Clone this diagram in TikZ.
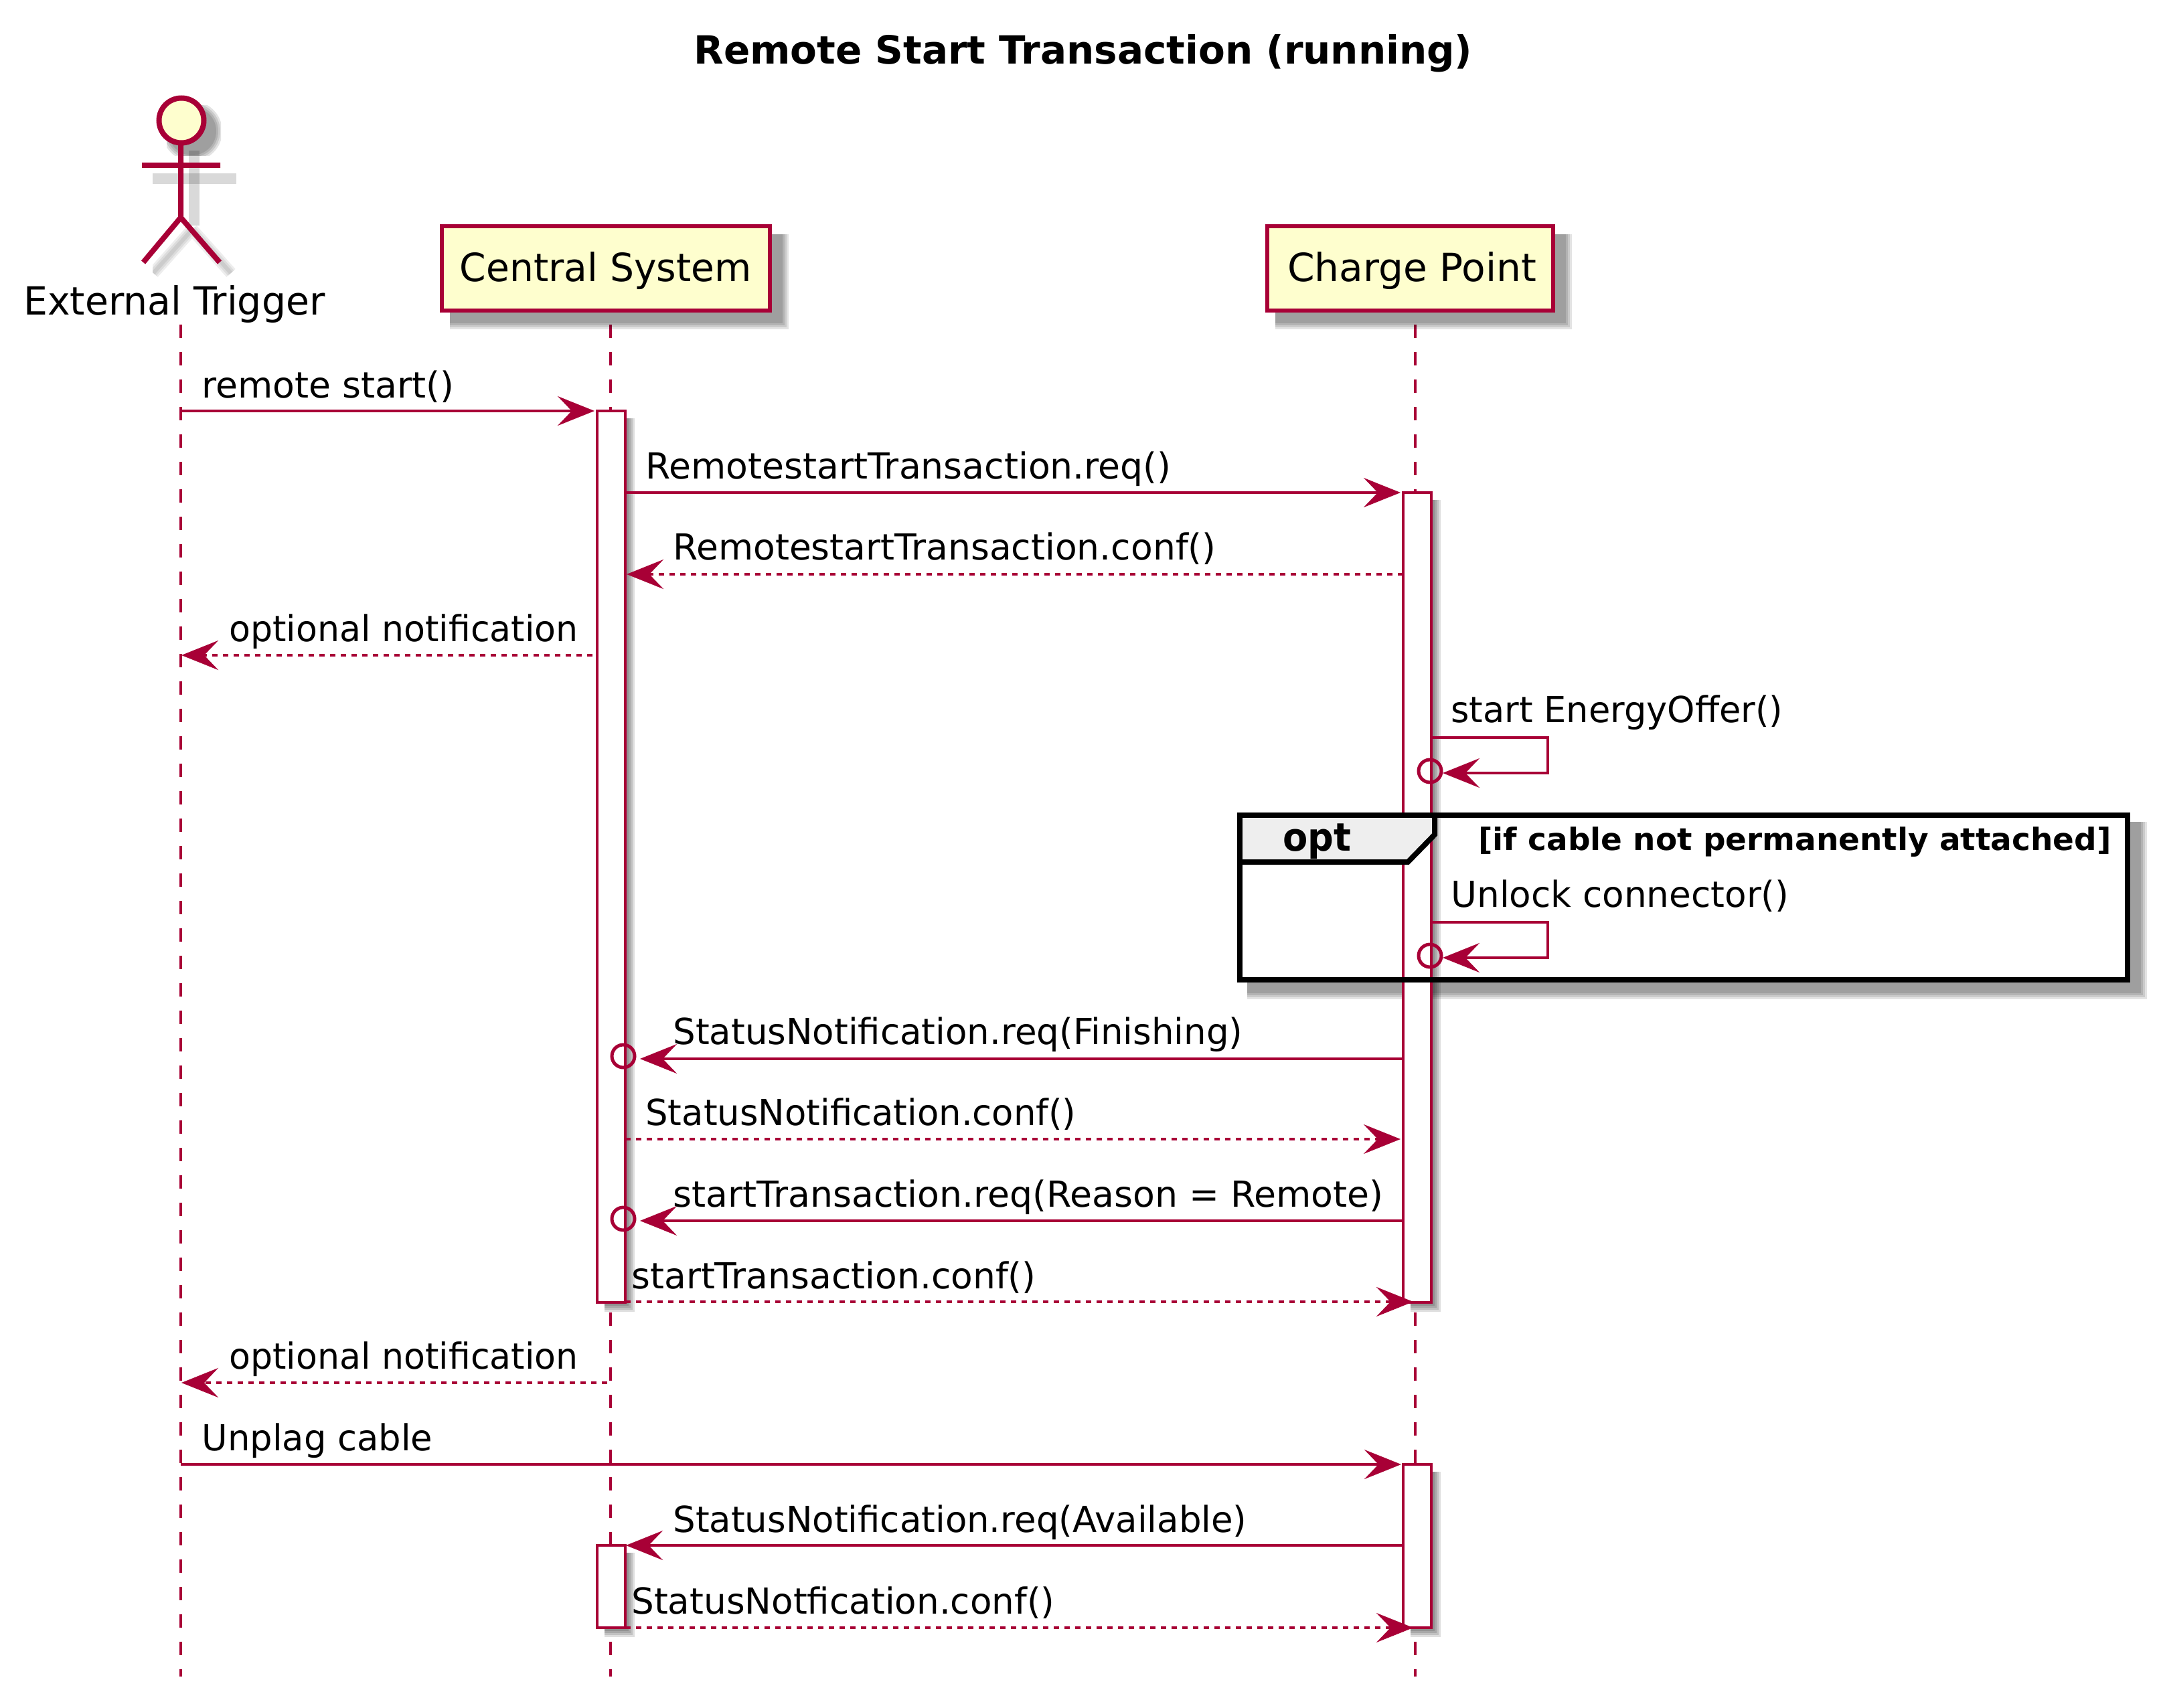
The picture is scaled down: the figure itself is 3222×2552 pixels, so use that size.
\documentclass[tikz,border=0pt]{standalone}
\usepackage{graphicx}
\usepackage{fontspec}
\setmainfont{DejaVu Sans}
\usetikzlibrary{arrows.meta}
\definecolor{umlred}{HTML}{A80036}
\definecolor{umlfill}{HTML}{FEFECE}
\definecolor{tabfill}{HTML}{EEEEEE}
\newcommand{\softbox}[4]{%
  \foreach \g in {25,22,19,16}{\fill[black,opacity=0.109] (#1+15,#2+15) rectangle (#3+\g,#4+\g);}}
\newcommand{\softact}[4]{%
  \foreach \g in {14,11,8,5,2}{\fill[black,opacity=0.13] (#1+11,#2+11) rectangle (#3+\g,#4+\g);}}
\newcommand{\fitw}[2]{\resizebox{\dimexpr #1pt/2\relax}{\height}{#2}}
\tikzset{
  x=0.5pt,y=-0.5pt,
  msgfont/.style={font=\fontsize{26.8pt}{30pt}\selectfont,anchor=base west,inner sep=0pt,text=black},
  partbox/.style={draw=umlred,fill=umlfill,line width=3pt,inner sep=0pt,minimum height=62.75pt,text height=21pt,text depth=1.25pt,font=\fontsize{29pt}{32pt}\selectfont},
  msg/.style={draw=umlred,line width=2.2pt,-{Stealth[length=27.5pt,width=22pt,inset=10.5pt,fill=umlred]}},
  reply/.style={msg,dash pattern=on 4pt off 4pt},
  lifeline/.style={draw=umlred,line width=2.2pt,dash pattern=on 10.2pt off 10.3pt},
  activation/.style={draw=umlred,fill=white,line width=2.2pt,minimum width=21pt,inner sep=0pt},
  lost/.style={draw=umlred,line width=2.5pt,fill=none,circle,minimum size=17pt,inner sep=0pt},
  actorline/.style={draw=umlred,line width=4pt},
  actorshadow/.style={draw=black,opacity=0.15,line width=8pt},
  legshadow/.style={draw=black,opacity=0.07},
}
\begin{document}
\begin{tikzpicture}
\useasboundingbox (0,0) rectangle (3222,2552);
\fill[white] (0,0) rectangle (3222,2552);
\node[anchor=base west,inner sep=0pt,font=\fontsize{29pt}{32pt}\selectfont\bfseries] (title) at (1036,96) {\fitw{1163}{Remote Start Transaction (running)}};
% lifeline ends
\coordinate (a1) at (270,485); \coordinate (a2) at (270,2505);
\coordinate (c1) at (912,485); \coordinate (c2) at (912,2505);
\coordinate (p1) at (2114,485); \coordinate (p2) at (2114,2505);
\draw[lifeline] (a1)--(a2);
\draw[lifeline] (c1)--(c2);
\draw[lifeline] (p1)--(p2);
% actor shadow
\draw[actorshadow] (290,225)--(290,337);
\draw[actorshadow] (228,267)--(353,267);
\begin{scope}
  \clip (228,337) rectangle (353,417);
  \foreach \w in {9,6,3}{\draw[legshadow,line width=\w pt] (287,343)--(229,408) (287,343)--(345,408);}
\end{scope}
\begin{scope}
  \clip (249,158) rectangle (330,233);
  \foreach \r in {45,42,39,36}{\fill[black,opacity=0.11] (287,196) circle (\r);}
\end{scope}
% actor
\coordinate (neck) at (270,215); \coordinate (hip) at (270,325);
\coordinate (armL) at (212,247); \coordinate (armR) at (329,247);
\coordinate (legL) at (214,392); \coordinate (legR) at (328,392);
\draw[actorline] (neck)--(hip) (armL)--(armR) (hip)--(legL) (hip)--(legR);
\node[circle,draw=umlred,fill=umlfill,line width=4pt,minimum size=33.5pt,inner sep=0pt] (head) at (271,180) {};
\node[anchor=base west,inner sep=0pt,font=\fontsize{29pt}{32pt}\selectfont] (extlabel) at (35,470) {\fitw{450}{External Trigger}};
% participants
\softbox{656.5}{335.5}{1153}{467}
\softbox{1890}{335.5}{2323}{467}
\node[partbox,minimum width=245.25pt] (central) at (904.75,401.25) {\fitw{436}{Central System}};
\node[partbox,minimum width=213.5pt] (charge) at (2106.5,401.25) {\hspace{2.5pt}\fitw{372}{Charge Point}};
% opt frame, lower part
\softbox{1848}{1213}{3182}{1468}
\fill[white] (1852,1217) rectangle (3178,1464);
% activations
\softact{892}{614}{934}{1946}
\softact{2096}{736}{2138}{1946}
\softact{892}{2309}{934}{2432}
\softact{2096}{2188}{2138}{2432}
\node[activation,minimum height=666pt] (actA) at (913,1280) {};
\node[activation,minimum height=605pt] (actB) at (2117,1341) {};
\node[activation,minimum height=61.5pt] (actC) at (913,2370.5) {};
\node[activation,minimum height=122pt] (actD) at (2117,2310) {};
% opt frame, upper part
\fill[tabfill] (1852,1217)--(2143,1217)--(2143,1247)--(2103,1288)--(1852,1288)--cycle;
\draw[black,line width=4pt,line join=miter] (2143,1217)--(2143,1247)--(2103,1288)--(1852,1288);
\draw[black,line width=4pt] (1852,1217.5) rectangle (3178,1464);
\node[anchor=base west,inner sep=0pt,font=\fontsize{29pt}{32pt}\selectfont\bfseries] (optlabel) at (1916,1271) {\fitw{102}{opt}};
\node[anchor=base west,inner sep=0pt,font=\fontsize{23pt}{26pt}\selectfont\bfseries] (optcond) at (2208,1270) {\fitw{945}{[if cable not permanently attached]}};
% message end points
\coordinate (m1s) at (270,614); \coordinate (m1e) at (888,614);
\coordinate (m2s) at (934,736); \coordinate (m2e) at (2092,736);
\coordinate (m3s) at (2096,858); \coordinate (m3e) at (936,858);
\coordinate (m4s) at (885,979); \coordinate (m4e) at (271,979);
\coordinate (s1a) at (2138,1102); \coordinate (s1b) at (2312,1102); \coordinate (s1c) at (2312,1155); \coordinate (s1d) at (2155,1155);
\coordinate (s2a) at (2138,1378); \coordinate (s2b) at (2312,1378); \coordinate (s2c) at (2312,1431); \coordinate (s2d) at (2155,1431);
\coordinate (m7s) at (2096,1582); \coordinate (m7e) at (956,1582);
\coordinate (m8s) at (934,1702); \coordinate (m8e) at (2092,1702);
\coordinate (m9s) at (2096,1824); \coordinate (m9e) at (956,1824);
\coordinate (m10s) at (934,1945); \coordinate (m10e) at (2111,1945);
\coordinate (m11s) at (907,2066); \coordinate (m11e) at (271,2066);
\coordinate (m12s) at (270,2188); \coordinate (m12e) at (2093,2188);
\coordinate (m13s) at (2096,2309); \coordinate (m13e) at (935,2309);
\coordinate (m14s) at (934,2432); \coordinate (m14e) at (2111,2432);
% messages
\draw[msg] (m1s)--(m1e);
\node[msgfont] (t1) at (301,594) {\fitw{377}{remote start()}};
\draw[msg] (m2s)--(m2e);
\node[msgfont] (t2) at (964,715) {\fitw{785}{RemotestartTransaction.req()}};
\draw[reply] (m3s)--(m3e);
\node[msgfont] (t3) at (1005,836) {\fitw{811}{RemotestartTransaction.conf()}};
\draw[reply] (m4s)--(m4e);
\node[msgfont] (t4) at (342,958) {\fitw{521}{optional notification}};
\draw[msg] (s1a)--(s1b)--(s1c)--(s1d);
\node[lost] (o1) at (2136,1152) {};
\node[msgfont] (t5) at (2167,1079) {\fitw{496}{start EnergyOffer()}};
\draw[msg] (s2a)--(s2b)--(s2c)--(s2d);
\node[lost] (o2) at (2136,1428) {};
\node[msgfont] (t6) at (2167,1355) {\fitw{505}{Unlock connector()}};
\draw[msg] (m7s)--(m7e);
\node[lost] (o3) at (931,1578) {};
\node[msgfont] (t7) at (1005,1560) {\fitw{851}{StatusNotification.req(Finishing)}};
\draw[reply] (m8s)--(m8e);
\node[msgfont] (t8) at (964,1681) {\fitw{643}{StatusNotification.conf()}};
\draw[msg] (m9s)--(m9e);
\node[lost] (o4) at (931,1821) {};
\node[msgfont] (t9) at (1005,1803) {\fitw{1061}{startTransaction.req(Reason = Remote)}};
\draw[reply] (m10s)--(m10e);
\node[msgfont] (t10) at (943,1925) {\fitw{604}{startTransaction.conf()}};
\draw[reply] (m11s)--(m11e);
\node[msgfont] (t11) at (342,2045) {\fitw{521}{optional notification}};
\draw[msg] (m12s)--(m12e);
\node[msgfont] (t12) at (301,2167) {\fitw{345}{Unplag cable}};
\draw[msg] (m13s)--(m13e);
\node[msgfont] (t13) at (1005,2289) {\fitw{857}{StatusNotification.req(Available)}};
\draw[reply] (m14s)--(m14e);
\node[msgfont] (t14) at (943,2411) {\fitw{632}{StatusNotfication.conf()}};
\end{tikzpicture}
\end{document}
